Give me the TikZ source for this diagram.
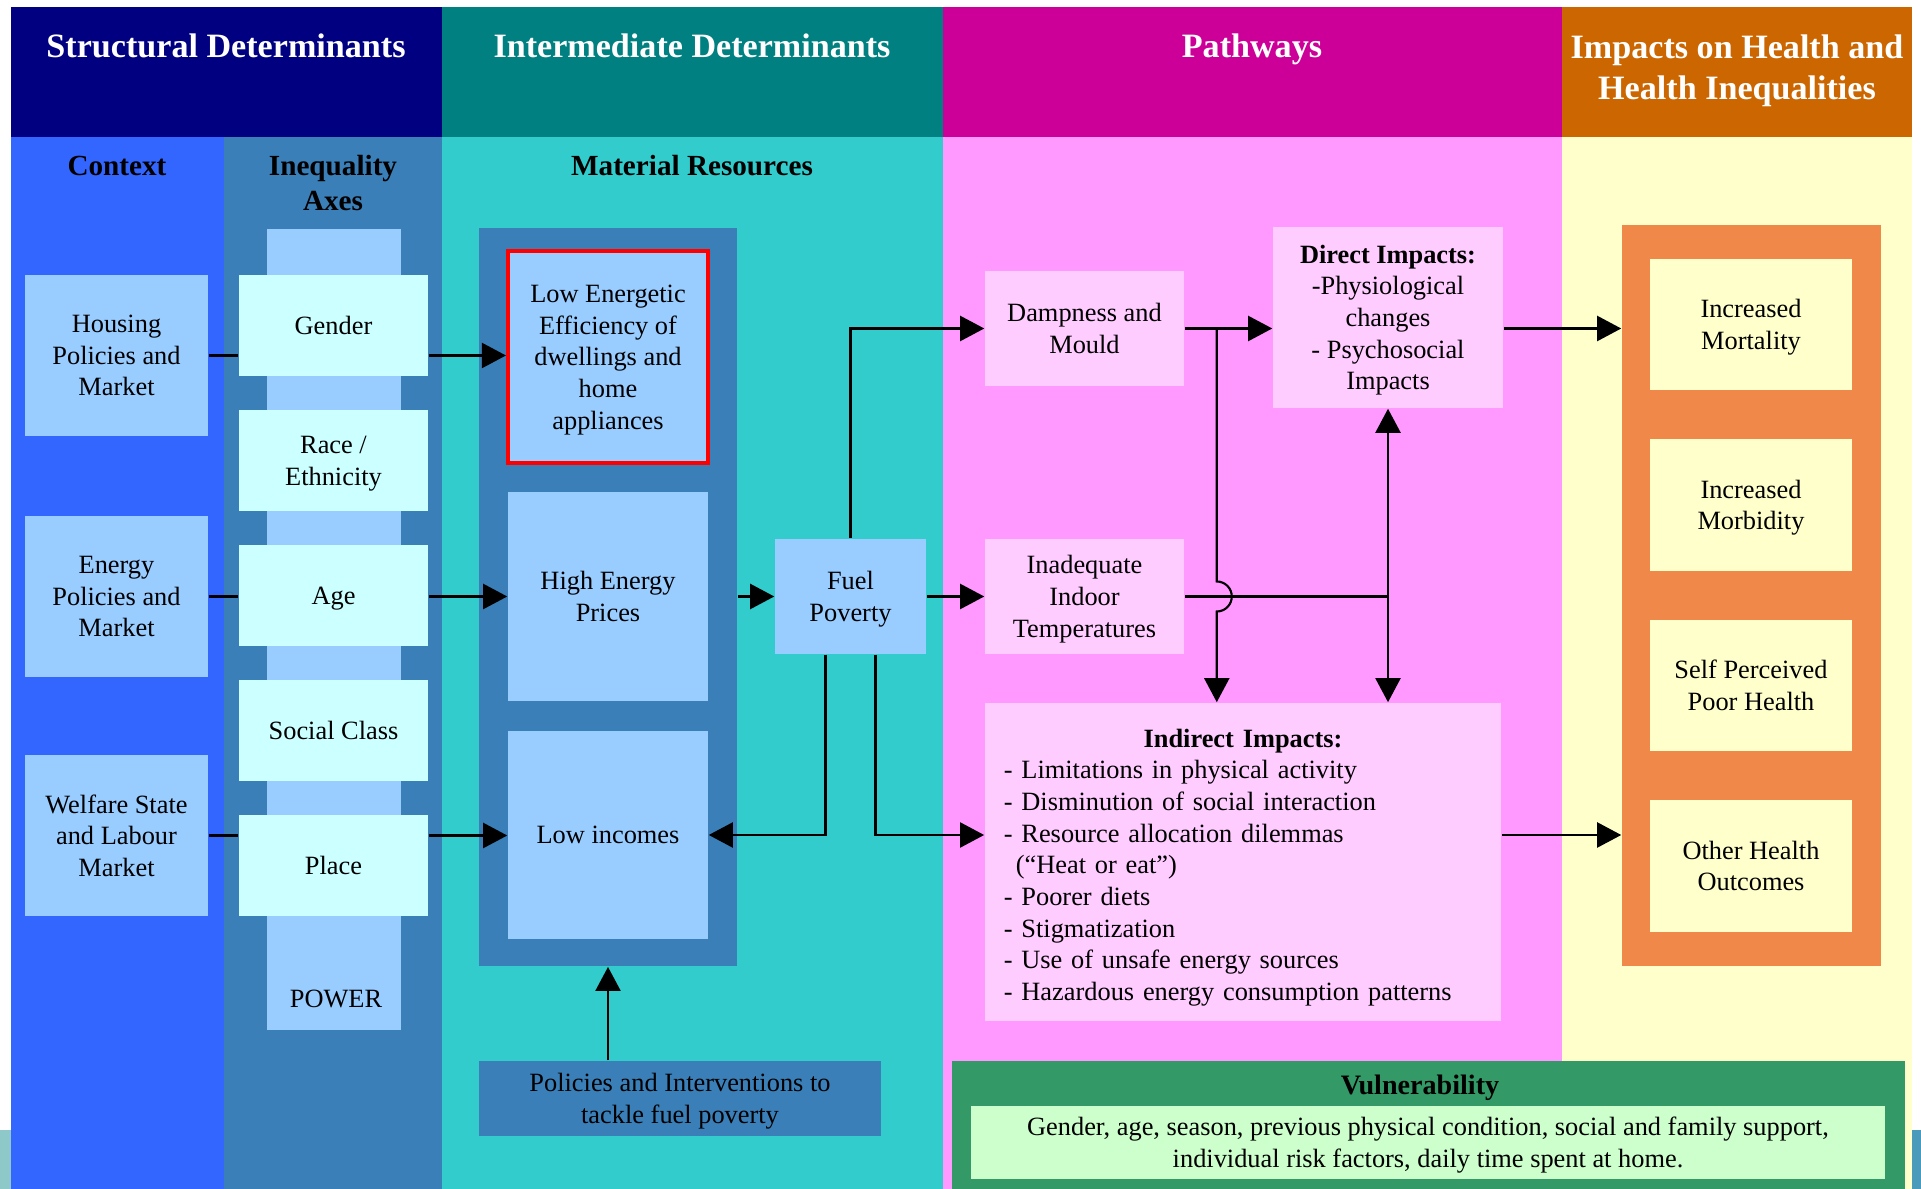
\documentclass[tikz,border=0pt]{standalone}
\usepackage{fontspec}
\setmainfont{Liberation Serif}
\usetikzlibrary{arrows.meta}
\definecolor{structhead}{HTML}{000080}
\definecolor{interhead}{HTML}{008080}
\definecolor{pathhead}{HTML}{CC0099}
\definecolor{impacthead}{HTML}{CC6600}
\definecolor{contextbg}{HTML}{3366FF}
\definecolor{axisbg}{HTML}{3A7FB8}
\definecolor{interbg}{HTML}{33CCCC}
\definecolor{pathbg}{HTML}{FF99FF}
\definecolor{impactbg}{HTML}{FFFFCC}
\definecolor{boxblue}{HTML}{99CCFF}
\definecolor{boxcyan}{HTML}{CCFFFF}
\definecolor{boxpink}{HTML}{FFCCFF}
\definecolor{outframe}{HTML}{F0884A}
\definecolor{vulngreen}{HTML}{339966}
\definecolor{vulnlight}{HTML}{CCFFCC}
\definecolor{edgeteal}{HTML}{8EC8C8}
\definecolor{edgeblue}{HTML}{4A9BBB}
\begin{document}
\begin{tikzpicture}[x=0.01cm,y=-0.01cm,
  every node/.style={inner sep=0pt,align=center,text depth=0pt,font=\fontsize{7.5}{9}\selectfont},
  headtxt/.style={text=white,font=\bfseries\fontsize{9.7}{11.9}\selectfont},
  subtxt/.style={font=\bfseries\fontsize{8.3}{10}\selectfont,anchor=base},
  contextbox/.style={fill=boxblue,minimum width=1.83cm,minimum height=1.61cm},
  axisbox/.style={fill=boxcyan,minimum width=1.89cm,minimum height=1.01cm},
  resbox/.style={fill=boxblue,minimum width=2cm},
  pathbox/.style={fill=boxpink,minimum width=1.99cm,minimum height=1.15cm},
  outbox/.style={fill=impactbg,minimum width=2.02cm,minimum height=1.31cm},
  link/.style={line width=0.6pt},
  arr/.style={link,-{Triangle[length=0.24cm,width=0.25cm]}}]
\useasboundingbox (0,0) rectangle (1921,1189);
\fill[edgeteal] (0,1130) rectangle (11,1189);
\fill[edgeblue] (1912,1130) rectangle (1921,1189);
\fill[structhead] (11,7) rectangle (442,137);
\fill[interhead] (442,7) rectangle (943,137);
\fill[pathhead] (943,7) rectangle (1562,137);
\fill[impacthead] (1562,7) rectangle (1912,137);
\fill[contextbg] (11,137) rectangle (224,1189);
\fill[axisbg] (224,137) rectangle (442,1189);
\fill[interbg] (442,137) rectangle (943,1189);
\fill[pathbg] (943,137) rectangle (1562,1189);
\fill[impactbg] (1562,137) rectangle (1912,1189);
\node[headtxt,anchor=base] (structural) at (226,58) {Structural Determinants};
\node[headtxt,anchor=base] (intermediate) at (692,58) {Intermediate Determinants};
\node[headtxt,anchor=base] (pathways) at (1252,58) {Pathways};
\node[headtxt,anchor=base] (impacts) at (1737,100) {Impacts on Health and\\Health Inequalities};
\node[subtxt] (context) at (117,176) {Context};
\node[subtxt] (axes) at (333,211) {Inequality\\Axes};
\node[subtxt] (material) at (692,176) {Material Resources};
\node[contextbox] (housing) at (116.5,355.5) {Housing\\Policies and\\Market};
\node[contextbox] (energy) at (116.5,596.5) {Energy\\Policies and\\Market};
\node[contextbox] (welfare) at (116.5,835.5) {Welfare State\\and Labour\\Market};
\node[fill=boxblue,minimum width=1.34cm,minimum height=8.01cm] (power) at (334,629.5) {};
\node (powerlbl) at (336,999) {POWER};
\node[axisbox] (gender) at (333.5,325.5) {Gender};
\node[axisbox] (race) at (333.5,460.5) {Race /\\Ethnicity};
\node[axisbox] (age) at (333.5,595.5) {Age};
\node[axisbox] (social) at (333.5,730.5) {Social Class};
\node[axisbox] (place) at (333.5,865.5) {Place};
\node[fill=axisbg,minimum width=2.58cm,minimum height=7.38cm] (matres) at (608,597) {};
\node[resbox,minimum height=2.12cm,draw=red,line width=0.04cm] (loweff) at (608,357) {Low Energetic\\Efficiency of\\dwellings and\\home\\appliances};
\node[resbox,minimum height=2.09cm] (hep) at (608,596.5) {High Energy\\Prices};
\node[resbox,minimum height=2.08cm] (lowinc) at (608,835) {Low incomes};
\node[fill=boxblue,minimum width=1.51cm,minimum height=1.15cm] (fuel) at (850.5,596.5) {Fuel\\Poverty};
\node[fill=axisbg,minimum width=4.02cm,minimum height=0.75cm] (policies) at (680,1098.5) {Policies and Interventions to\\tackle fuel poverty};
\node[pathbox] (damp) at (1084.5,328.5) {Dampness and\\Mould};
\node[pathbox] (inadeq) at (1084.5,596.5) {Inadequate\\Indoor\\Temperatures};
\node[fill=boxpink,minimum width=2.3cm,minimum height=1.81cm] (direct) at (1388,317.5) {\textbf{Direct Impacts:}\\-Physiological\\changes\\- Psychosocial\\Impacts};
\node[fill=boxpink,minimum width=5.16cm,minimum height=3.18cm,text width=4.78cm,text depth=,align=left] (indirect) at (1243,862) {\rule{0pt}{8.4pt}\makebox[4.78cm]{\textbf{Indirect Impacts:}}\\- Limitations in physical activity\\- Disminution of social interaction\\- Resource allocation dilemmas\\\hspace*{0.12cm}(“Heat or eat”)\\- Poorer diets\\- Stigmatization\\- Use of unsafe energy sources\\- Hazardous energy consumption patterns};
\node[fill=outframe,minimum width=2.59cm,minimum height=7.41cm] (outcomes) at (1751.5,595.5) {};
\node[outbox] (mort) at (1751,324.5) {Increased\\Mortality};
\node[outbox] (morb) at (1751,505) {Increased\\Morbidity};
\node[outbox] (selfp) at (1751,685.5) {Self Perceived\\Poor Health};
\node[outbox] (other) at (1751,866) {Other Health\\Outcomes};
\node[fill=vulngreen,minimum width=9.53cm,minimum height=1.28cm] (vuln) at (1428.5,1125) {};
\node[font=\bfseries\fontsize{8}{10}\selectfont,anchor=base] (vulntitle) at (1420,1094) {Vulnerability};
\node[fill=vulnlight,minimum width=9.14cm,minimum height=0.73cm] (vulntext) at (1428,1142.5) {Gender, age, season, previous physical condition, social and family support,\\individual risk factors, daily time spent at home.};
\draw[link] (housing.east) -- (housing.east -| gender.west);
\draw[arr] (housing.east -| gender.east) -- (housing.east -| loweff.west);
\draw[link] (energy.east) -- (energy.east -| age.west);
\draw[arr] (energy.east -| age.east) -- (energy.east -| hep.west);
\draw[link] (welfare.east) -- (welfare.east -| place.west);
\draw[arr] (welfare.east -| place.east) -- (welfare.east -| lowinc.west);
\draw[arr] (matres.east |- hep.east) -- (fuel.west);
\draw[arr] (fuel.north) |- (damp.west);
\draw[arr] (fuel.east) -- (inadeq.west);
\draw[arr] ([xshift=-0.25cm]fuel.south) |- (lowinc.east);
\draw[arr] ([xshift=0.25cm]fuel.south) |- (indirect.west |- lowinc.east);
\draw[arr] (damp.east) -- (direct.west |- damp.east);
\coordinate (split) at ([xshift=0.32cm]damp.east);
\draw[arr] (split) -- ([yshift=0.15cm]split |- inadeq.east) arc[start angle=90,end angle=-90,radius=0.15cm] -- (split |- indirect.north);
\draw[link] (inadeq.east) -- (direct.south |- inadeq.east);
\draw[arr] (direct.south |- inadeq.east) -- (direct.south);
\draw[arr] (direct.south |- inadeq.east) -- (direct.south |- indirect.north);
\draw[arr] (direct.east |- damp.east) -- (outcomes.west |- damp.east);
\draw[arr] (indirect.east |- lowinc.east) -- (outcomes.west |- lowinc.east);
\draw[arr] (matres.south |- policies.north) -- (matres.south);
\end{tikzpicture}
\end{document}
